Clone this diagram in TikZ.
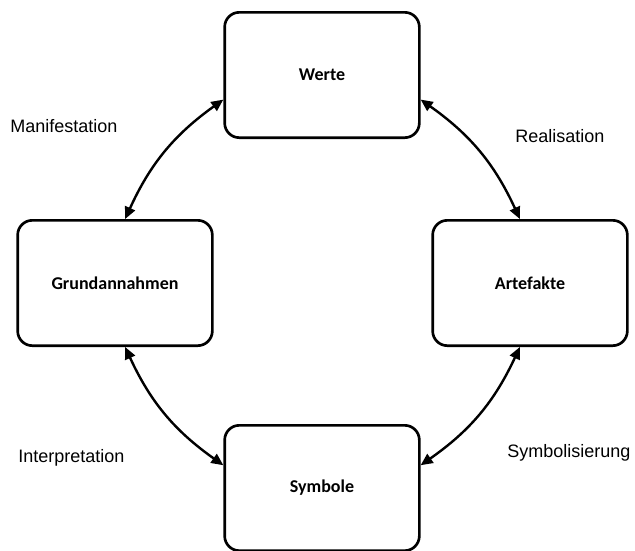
\documentclass[tikz,border=0pt]{standalone}
\usepackage{fontspec}
\setmainfont{Liberation Sans}
\newfontfamily\boxfont{Carlito}
\usetikzlibrary{arrows.meta}
\tikzset{my box/.style={draw, line width=2pt, rounded corners=11pt,
    minimum width=146pt, minimum height=94pt,
    font=\boxfont\fontsize{13.5}{16}\selectfont\bfseries},
  my link/.style={line width=1.8pt, {Triangle[length=9pt,width=8pt]}-{Triangle[length=9pt,width=8pt]}},
  my label/.style={anchor=west, inner sep=0pt, font=\fontsize{13.5}{16}\selectfont}}

\begin{document}
\begin{tikzpicture}[x=0.75pt,y=-0.75pt]
\useasboundingbox (0,0) rectangle (635,550);
\node[my box] (werte) at (322,75) {Werte};
\node[my box] (grund) at (115,283) {Grundannahmen};
\node[my box] (arte) at (530,283) {Artefakte};
\node[my box] (symb) at (322,488) {Symbole};
\draw[my link] (grund.81) to[bend left=15] (werte.194);
\draw[my link] (werte.346) to[bend left=15] (arte.99);
\draw[my link] (arte.261) to[bend left=15] (symb.13);
\draw[my link] (symb.167) to[bend left=15] (grund.279);
\node[my label] (mani) at (10,126) {Manifestation};
\node[my label] (real) at (515,136) {Realisation};
\node[my label] (inter) at (18,458) {Interpretation};
\node[my label] (symbo) at (507,453) {Symbolisierung};
\end{tikzpicture}
\end{document}
